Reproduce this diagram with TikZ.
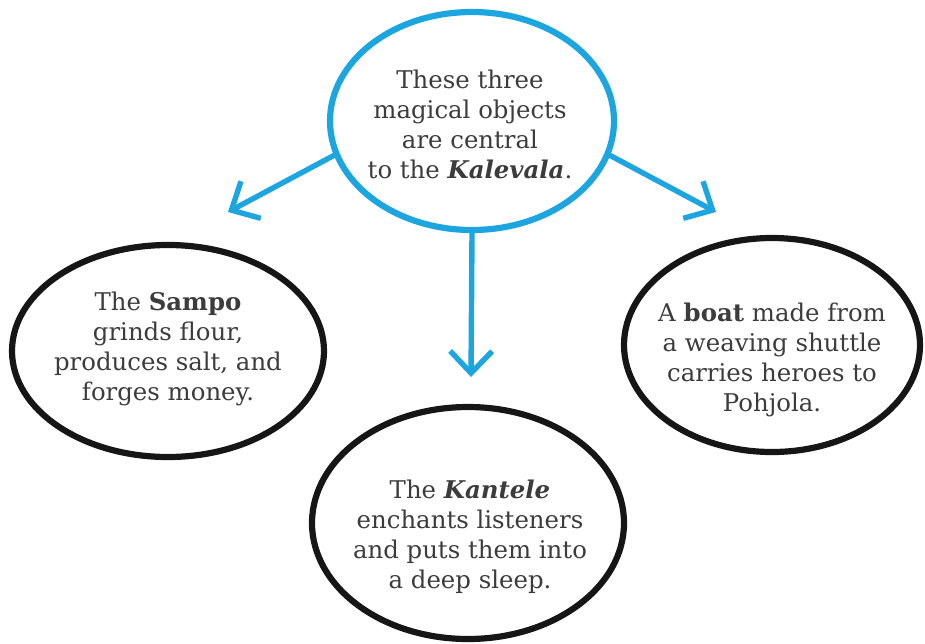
\documentclass[tikz,border=0pt]{standalone}
\usepackage{fontspec}
\setmainfont{DejaVu Serif}
\usetikzlibrary{arrows.meta,shapes.geometric,calc}

\begin{document}
\begin{tikzpicture}[x=0.5pt,y=-0.5pt,>={Straight Barb[length=11pt,width=21pt]},
    font=\fontsize{12.2}{15}\selectfont,
    blob/.style={ellipse,draw=cInk,line width=3.1pt,inner sep=0pt},
    txt/.style={align=center,text=cText},
    link/.style={->,cSky,line width=2.7pt,line cap=round,line join=round}]
  \definecolor{cSky}{RGB}{28,165,222}
  \definecolor{cInk}{RGB}{22,22,22}
  \definecolor{cText}{RGB}{60,60,60}
  \useasboundingbox (0,0) rectangle (925,643);
  % the four ellipses
  \node[blob,draw=cSky,minimum width=142pt,minimum height=109pt] (kalevala) at (472,121) {};
  \node[blob,minimum width=156pt,minimum height=106pt] (sampo) at (168,351) {};
  \node[blob,minimum width=156pt,minimum height=116pt] (kantele) at (468,523) {};
  \node[blob,minimum width=148pt,minimum height=107pt] (boat) at (772,345) {};
  % texts
  \node[txt] (tKalevala) at (470,124) {These three\\magical objects\\are central\\to the \textbf{\textit{Kalevala}}.};
  \node[txt] (tSampo) at (168,349) {The \textbf{Sampo}\\grinds flour,\\produces salt, and\\forges money.};
  \node[txt] (tKantele) at (470,537) {The \textbf{\textit{Kantele}}\\enchants listeners\\and puts them into\\a deep sleep.};
  \node[txt] (tBoat) at (772,360) {A \textbf{boat} made from\\a weaving shuttle\\carries heroes to\\Pohjola.};
  % arrows
  \coordinate (tipL) at (228,212);
  \coordinate (tipM) at (471,377);
  \coordinate (tipR) at (716,212);
  \draw[link] (kalevala.194) -- (tipL);
  \draw[link] (kalevala.south) -- (tipM);
  \draw[link] (kalevala.-14) -- (tipR);
\end{tikzpicture}
\end{document}
